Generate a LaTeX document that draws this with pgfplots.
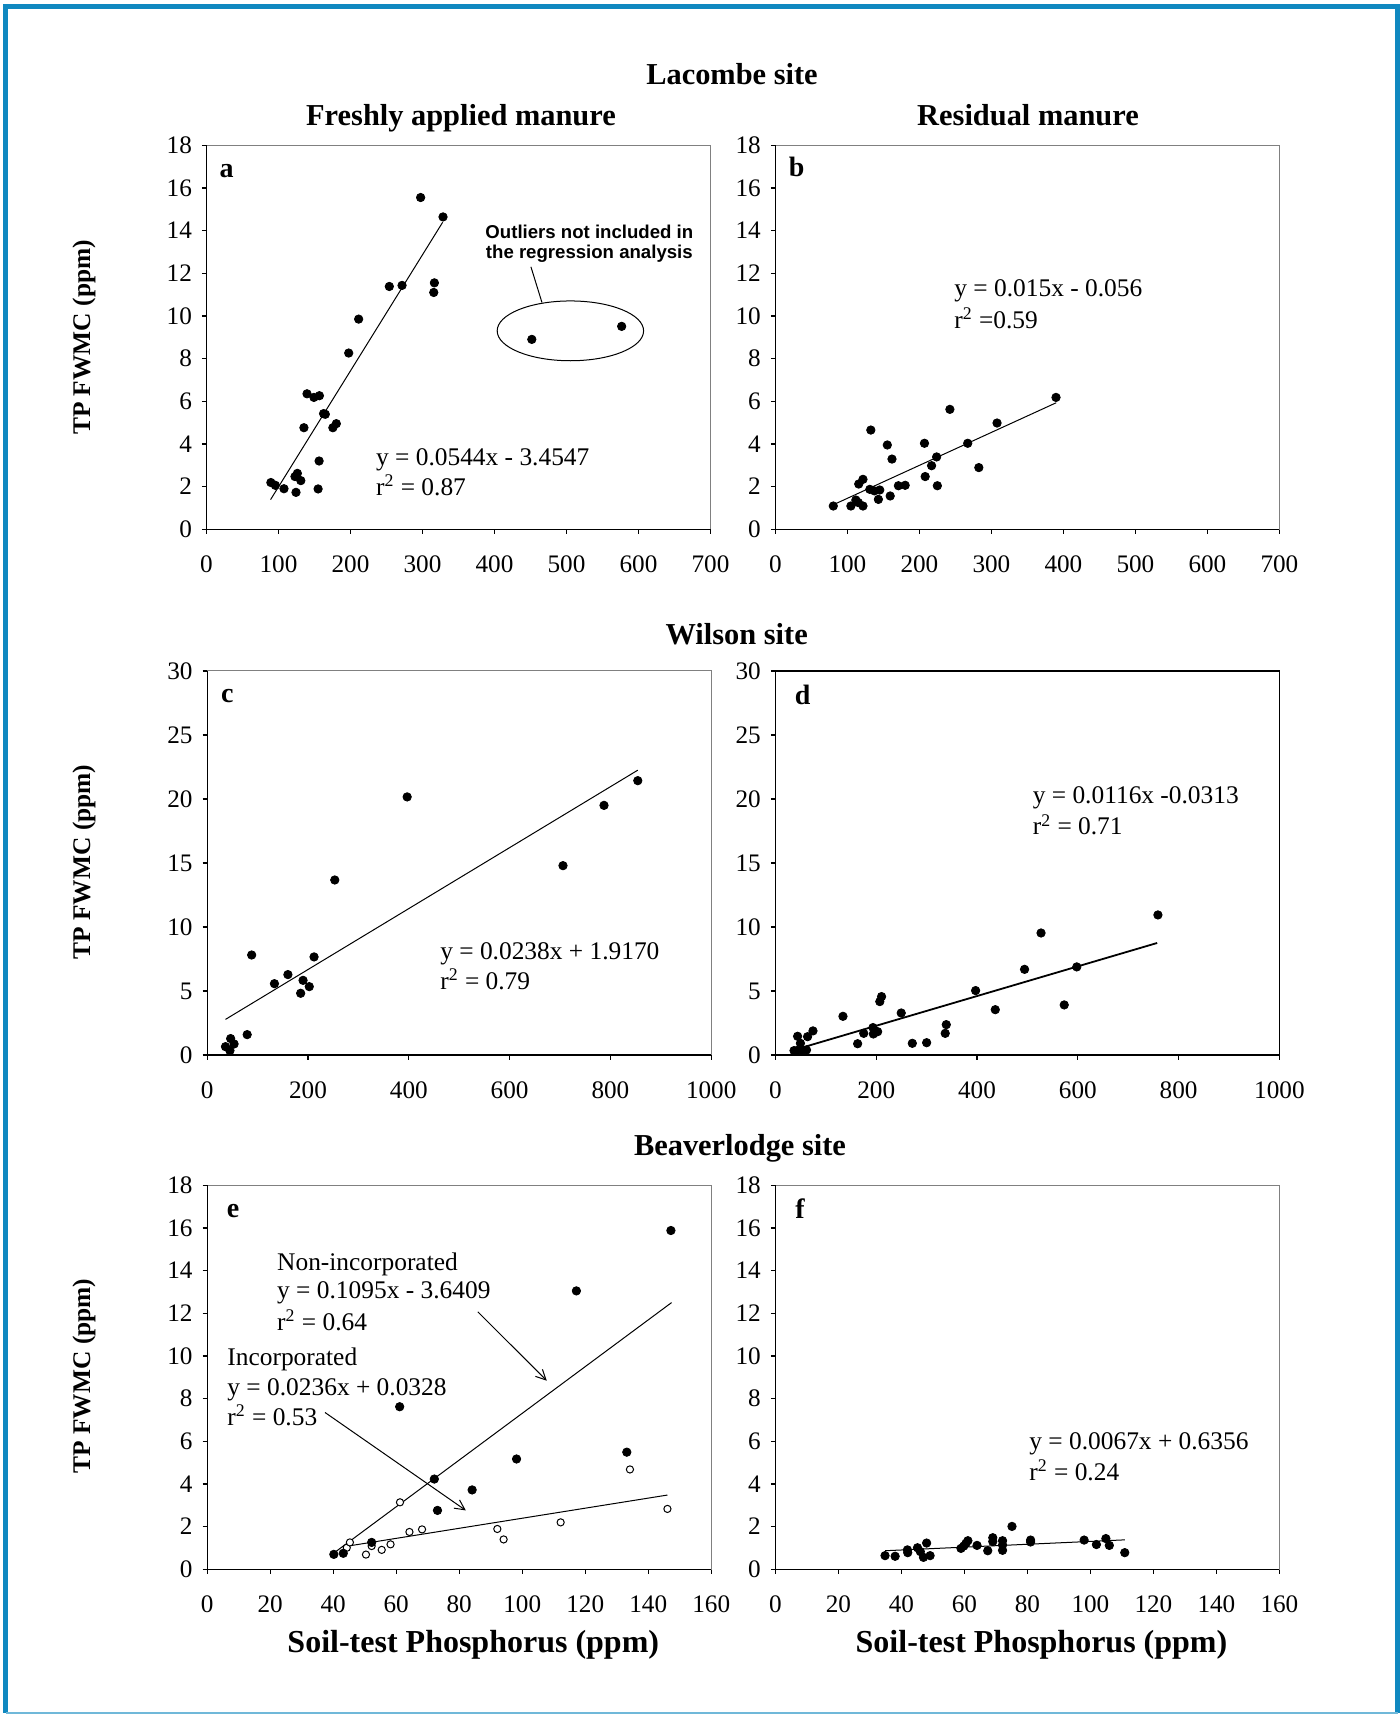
\documentclass[border=0pt]{standalone}
\usepackage{fontspec}
\setmainfont{Liberation Serif}
\newfontfamily\arialbold[BoldFont={Liberation Sans Bold}]{Liberation Sans}
\usepackage{pgfplots}
\pgfplotsset{compat=1.18}
\usetikzlibrary{arrows.meta}
\definecolor{frameblue}{RGB}{16,136,192}

\pgfplotsset{
  panel/.style={
    scale only axis, width=252bp, height=192bp, anchor=south west,
    axis line style={draw=gray, line width=0.5bp},
    tick align=outside, tick pos=left,
    major tick length=2.3bp,
    tick style={black, line width=0.6bp},
    ticklabel style={font=\fontsize{12.6bp}{14bp}\selectfont},
    /pgf/number format/assume math mode=true,
    /pgf/number format/1000 sep={},
    scaled ticks=false,
    clip=false, ymin=0,
    xticklabel style={yshift=-7.5bp},
    yticklabel style={xshift=-1.5bp},
    after end axis/.code={\draw[black, line width=0.7bp] (rel axis cs:0,1) -- (rel axis cs:0,0) -- (rel axis cs:1,0);},
  },
  dots/.style={only marks, mark=*, mark size=2.1bp, mark options={fill=black, draw=black}},
  opendots/.style={only marks, mark=*, mark size=1.8bp, mark options={fill=white, draw=black, line width=0.5bp}},
  reg/.style={no marks, black, line width=0.5bp},
}
\tikzset{
  letter/.style={anchor=base west, inner sep=0pt, font=\fontsize{14bp}{14bp}\selectfont\bfseries},
  eq/.style={anchor=base west, inner sep=0pt, font=\fontsize{12.7bp}{15bp}\selectfont},
  title/.style={anchor=base, inner sep=0pt, font=\fontsize{15.2bp}{18bp}\selectfont\bfseries},
  ylab/.style={rotate=90, inner sep=0pt, font=\fontsize{12.7bp}{15bp}\selectfont\bfseries},
  xlab/.style={anchor=base, inner sep=0pt, font=\fontsize{16bp}{18bp}\selectfont\bfseries},
}

\begin{document}
\begin{tikzpicture}[x=0.5bp,y=0.5bp]
\useasboundingbox (0,0) rectangle (1400,1714);
% outer frame
\draw[frameblue, line width=2.5bp] (5.8,1.5) -- (5.8,1707.4) -- (1397.5,1707.4) -- (1397.5,1.5);
\draw[frameblue!60, line width=1bp] (5.8,1) -- (1397.5,1);

% titles
\node[title] at (732,1714-85) {Lacombe site};
\node[title] at (461,1714-126) {Freshly applied manure};
\node[title] at (1028,1714-126) {Residual manure};
\node[title] at (736.7,1714-645) {Wilson site};
\node[title] at (740,1714-1156) {Beaverlodge site};
\node[ylab] at (84,1714-337.5) {TP FWMC (ppm)};
\node[ylab] at (84,1714-862) {TP FWMC (ppm)};
\node[ylab] at (84,1714-1376) {TP FWMC (ppm)};
\node[xlab] at (473.3,1714-1653) {Soil-test Phosphorus (ppm)};
\node[xlab] at (1041.5,1714-1653) {Soil-test Phosphorus (ppm)};

% a
\begin{axis}[panel, at={(103.25bp,592.35bp)}, xmin=0, xmax=700, ymax=18,
  xtick={0,100,...,700}, ytick={0,2,...,18}]
\addplot[dots] coordinates {
  (89.4,2.19) (95.6,2.06) (107.6,1.90) (124.3,1.73) (122.9,2.47) (126.2,2.62)
  (131,2.28) (155,1.89) (156.4,3.20) (135.3,4.76) (139.6,6.35) (149.2,6.18)
  (156.8,6.26) (162.6,5.42) (165,5.39) (175.5,4.76) (180.3,4.95) (197.5,8.26)
  (211.3,9.85) (253.9,11.38) (271.6,11.43) (297.4,15.55) (328.5,14.64)
  (316.5,11.55) (315.6,11.10)
};
\addplot[dots] coordinates {(451.8,8.90) (576.6,9.51)};
\addplot[reg] coordinates {(89,1.39) (328,14.39)};
\draw[black, line width=0.5bp] (axis cs:505.4,9.30) ellipse [x radius=36.6bp, y radius=14.95bp];
\draw[black, line width=0.5bp] (axis cs:450.6,12.30) -- (axis cs:465.9,10.63);
\node[anchor=base, inner sep=0pt, font=\fontsize{9.3bp}{10bp}\arialbold\bfseries] at (axis cs:531.7,13.63) {Outliers not included in};
\node[anchor=base, inner sep=0pt, font=\fontsize{9.3bp}{10bp}\arialbold\bfseries] at (axis cs:531.7,12.69) {the regression analysis};
\node[eq] at (axis cs:235,3.01) {y = 0.0544x - 3.4547};
\node[eq] at (axis cs:235,1.58) {r\textsuperscript{2} = 0.87};
\node[letter] at (rel axis cs:0.025,0.917) {a};
\end{axis}

% b
\begin{axis}[panel, at={(387.7bp,592.35bp)}, xmin=0, xmax=700, ymax=18,
  xtick={0,100,...,700}, ytick={0,2,...,18}]
\addplot[dots] coordinates {
  (80.4,1.09) (104.8,1.09) (111.7,1.37) (115.2,1.25) (121.6,1.09) (115.7,2.12)
  (121.6,2.34) (131.1,1.87) (137.5,1.80) (144.9,1.84) (143,1.40) (132.5,4.65)
  (155.4,3.95) (161.9,3.29) (159.4,1.56) (170.8,2.04) (180.2,2.06) (207,4.03)
  (208,2.47) (216.9,2.98) (223.9,3.39) (224.9,2.04) (242.3,5.62) (267.1,4.03)
  (282.5,2.89) (307.8,4.98) (389.7,6.18)
};
\addplot[reg] coordinates {(85,1.22) (390,5.93)};
\node[eq] at (axis cs:248,10.9) {y = 0.015x - 0.056};
\node[eq] at (axis cs:248,9.41) {r\textsuperscript{2} =0.59};
\node[letter] at (rel axis cs:0.026,0.919) {b};
\end{axis}

% c
\begin{axis}[panel, at={(103.6bp,329.5bp)}, xmin=0, xmax=1000, ymax=30,
  xtick={0,200,...,1000}, ytick={0,5,...,30}]
\addplot[dots] coordinates {
  (36.3,0.65) (45.1,0.34) (46.5,1.28) (53.3,0.86) (79.3,1.59) (88.2,7.81)
  (133.4,5.57) (160.1,6.28) (185.4,4.82) (190.2,5.83) (202.5,5.34) (212,7.66)
  (253.1,13.67) (396.7,20.16) (705.9,14.79) (787.3,19.5) (854.3,21.43)
};
\addplot[reg] coordinates {(36.3,2.78) (854.3,22.25)};
\node[eq] at (axis cs:461.7,7.42) {y = 0.0238x + 1.9170};
\node[eq] at (axis cs:461.7,5.13) {r\textsuperscript{2} = 0.79};
\node[letter] at (rel axis cs:0.027,0.917) {c};
\end{axis}

% d
\begin{axis}[panel, at={(387.7bp,329.5bp)}, xmin=0, xmax=1000, ymax=30,
  xtick={0,200,...,1000}, ytick={0,5,...,30},
  axis line style={draw=black, line width=0.8bp}]
\addplot[dots] coordinates {
  (36.9,0.34) (42.6,0.34) (44,1.46) (49.6,0.91) (53.2,0.39) (61.7,0.39)
  (63.8,1.43) (74.5,1.88) (134,3.02) (163.1,0.88) (175.2,1.69) (193.6,2.14)
  (194.3,1.64) (202.8,1.82) (207.1,4.17) (210.6,4.56) (249.6,3.28) (271.6,0.91)
  (300,0.96) (336.9,1.69) (339,2.37) (397.2,5.03) (436.2,3.54) (494.3,6.69)
  (527,9.53) (573,3.91) (597.9,6.88) (758.9,10.94)
};
\addplot[no marks, black, line width=0.9bp] coordinates {(53.2,0.58) (757.4,8.75)};
\node[eq] at (axis cs:509.9,19.66) {y = 0.0116x -0.0313};
\node[eq] at (axis cs:509.9,17.19) {r\textsuperscript{2} = 0.71};
\node[letter] at (rel axis cs:0.038,0.912) {d};
\end{axis}

% e
\begin{axis}[panel, at={(103.6bp,72.35bp)}, xmin=0, xmax=160, ymax=18,
  xtick={0,20,...,160}, ytick={0,2,...,18}]
\addplot[reg] coordinates {(41,0.85) (147.4,12.50)};
\addplot[reg] coordinates {(44.3,1.08) (146.1,3.48)};
\addplot[opendots] coordinates {
  (44.3,1.01) (45.3,1.26) (50.4,0.69) (52.2,1.09) (55.4,0.91) (58.2,1.17)
  (61.2,3.14) (64.2,1.75) (68.2,1.87) (92.1,1.89) (94.1,1.40) (112.2,2.20)
  (134.2,4.68) (146.1,2.83)
};
\addplot[dots] coordinates {
  (40.2,0.70) (43.2,0.75) (52.2,1.26) (61.1,7.62) (72.1,4.23) (73.1,2.76)
  (84.1,3.72) (98.2,5.17) (117.2,13.05) (133.2,5.49) (147.2,15.88)
};
\draw[black, line width=0.5bp, -{Straight Barb[length=5bp, width=5bp]}] (axis cs:85.9,12.07) -- (axis cs:107.8,8.84);
\draw[black, line width=0.5bp, -{Straight Barb[length=5bp, width=5bp]}] (axis cs:37.4,7.35) -- (axis cs:82.1,2.76);
\node[eq] at (axis cs:22.1,14.02) {Non-incorporated};
\node[eq] at (axis cs:22.1,12.69) {y = 0.1095x - 3.6409};
\node[eq] at (axis cs:22.1,11.21) {r\textsuperscript{2} = 0.64};
\node[eq] at (axis cs:6.3,9.57) {Incorporated};
\node[eq] at (axis cs:6.3,8.16) {y = 0.0236x + 0.0328};
\node[eq] at (axis cs:6.3,6.76) {r\textsuperscript{2} = 0.53};
\node[letter] at (rel axis cs:0.038,0.917) {e};
\end{axis}

% f
\begin{axis}[panel, at={(387.7bp,72.35bp)}, xmin=0, xmax=160, ymax=18,
  xtick={0,20,...,160}, ytick={0,2,...,18}]
\addplot[dots] coordinates {
  (34.8,0.64) (38,0.61) (41.9,0.91) (42,0.78) (45.1,1.01) (46,0.83) (47,0.56)
  (48,1.23) (49.1,0.64) (58.9,0.98) (59.8,1.09) (60.5,1.22) (61.1,1.34) (64,1.12)
  (67.4,0.87) (69,1.48) (69,1.30) (72.1,1.34) (72.1,1.14) (72.1,0.89) (75.1,2.01)
  (81,1.37) (81,1.28) (98,1.37) (101.9,1.16) (104.9,1.44) (106,1.12) (110.9,0.78)
};
\addplot[reg] coordinates {(34.8,0.87) (110.9,1.38)};
\node[eq] at (axis cs:80.5,5.62) {y = 0.0067x + 0.6356};
\node[eq] at (axis cs:80.5,4.18) {r\textsuperscript{2} = 0.24};
\node[letter] at (rel axis cs:0.039,0.914) {f};
\end{axis}
\end{tikzpicture}
\end{document}
